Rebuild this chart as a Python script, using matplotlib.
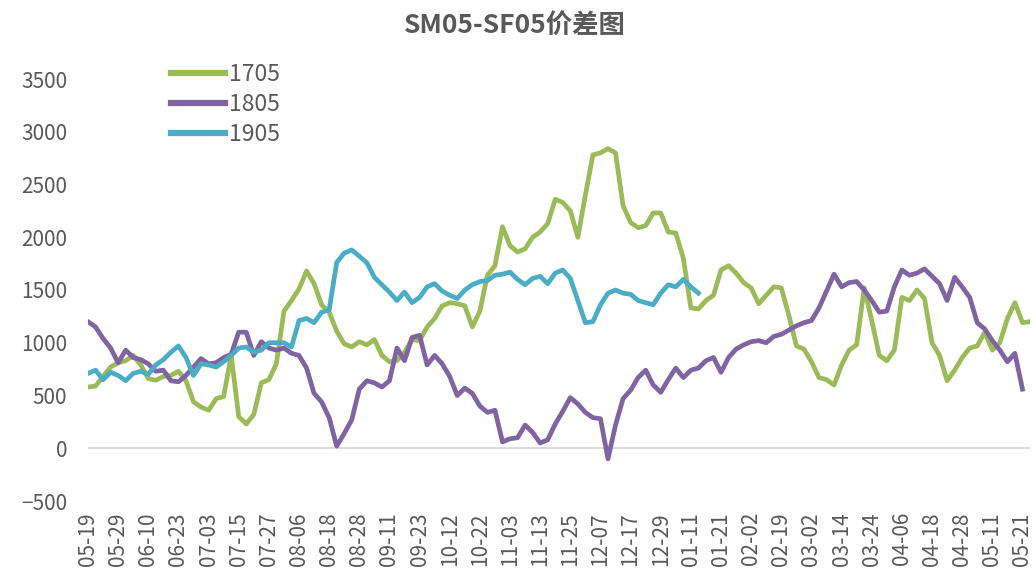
import numpy as np
import matplotlib
matplotlib.use('Agg')
import matplotlib.pyplot as plt

plt.rcParams['font.family'] = ['Noto Sans CJK SC', 'DejaVu Sans']

# trading-day tick labels (every 8 trading days)
date_labels = ['05-19', '05-29', '06-10', '06-23', '07-03', '07-15', '07-27', '08-06',
               '08-18', '08-28', '09-11', '09-23', '10-12', '10-22', '11-03', '11-13',
               '11-25', '12-07', '12-17', '12-29', '01-11', '01-21', '02-02', '02-19',
               '03-02', '03-14', '03-24', '04-06', '04-18', '04-28', '05-11', '05-21']
tick_step = 8
sample_step = 2  # one reading every 2 trading days

spread_1705 = [580, 590, 680, 770, 810, 830, 880, 790, 660, 645,
               680, 690, 730, 640, 440, 390, 360, 470, 490, 880,
               300, 230, 320, 620, 650, 800, 1300, 1400, 1510, 1680,
               1560, 1360, 1290, 1110, 990, 960, 1010, 980, 1030, 880,
               820, 830, 910, 1030, 1020, 1150, 1230, 1350, 1380, 1370,
               1350, 1150, 1300, 1640, 1730, 2100, 1920, 1860, 1890, 2000,
               2050, 2130, 2360, 2330, 2250, 2000, 2400, 2780, 2800, 2840,
               2800, 2300, 2140, 2090, 2110, 2230, 2230, 2050, 2040, 1800,
               1330, 1320, 1400, 1450, 1690, 1730, 1660, 1570, 1520, 1370,
               1450, 1530, 1520, 1260, 970, 940, 820, 670, 650, 600,
               790, 930, 980, 1520, 1210, 880, 830, 930, 1430, 1400,
               1500, 1420, 1000, 880, 640, 740, 860, 950, 970, 1100,
               930, 1000, 1230, 1380, 1190, 1200]

spread_1805 = [1200, 1150, 1040, 950, 810, 930, 860, 840, 800, 730,
               740, 640, 630, 690, 770, 850, 800, 810, 860, 890,
               1100, 1100, 880, 1010, 950, 930, 950, 900, 880, 760,
               520, 440, 290, 20, 140, 270, 560, 640, 620, 580,
               640, 950, 830, 1050, 1070, 790, 880, 800, 680, 500,
               570, 520, 400, 340, 360, 60, 90, 100, 220, 150,
               50, 80, 230, 350, 480, 420, 340, 290, 280, -100,
               220, 470, 550, 670, 740, 600, 530, 650, 760, 670,
               740, 760, 830, 860, 720, 860, 940, 980, 1010, 1020,
               1000, 1060, 1080, 1120, 1160, 1190, 1210, 1330, 1490, 1650,
               1530, 1570, 1580, 1500, 1400, 1290, 1300, 1530, 1690, 1640,
               1660, 1700, 1630, 1560, 1400, 1620, 1530, 1430, 1190, 1130,
               1020, 930, 820, 900, 560]

spread_1905 = [710, 740, 650, 720, 690, 640, 710, 730, 700, 790,
               840, 910, 970, 860, 690, 800, 790, 770, 820, 880,
               950, 960, 910, 930, 1000, 1000, 1000, 960, 1210, 1230,
               1190, 1290, 1310, 1760, 1850, 1880, 1820, 1760, 1620, 1550,
               1480, 1400, 1480, 1380, 1430, 1530, 1560, 1490, 1450, 1420,
               1500, 1550, 1580, 1590, 1640, 1650, 1670, 1600, 1550, 1610,
               1630, 1560, 1660, 1690, 1610, 1400, 1190, 1200, 1360, 1470,
               1500, 1470, 1460, 1400, 1380, 1360, 1470, 1550, 1530, 1600,
               1530, 1470]

series = [('1705', spread_1705, '#9BBB59'),
          ('1805', spread_1805, '#8064A2'),
          ('1905', spread_1905, '#4BACC6')]

text_color = '#595959'

fig = plt.figure(figsize=(10.33, 5.74), dpi=100)
ax = fig.add_axes([88 / 1033, (574 - 501) / 574, (1030 - 88) / 1033, (501 - 79) / 574])

lines = []
for name, vals, color in series:
    x = np.arange(len(vals)) * sample_step
    ln, = ax.plot(x, vals, color=color, lw=3.4, label=name, solid_joinstyle='round')
    lines.append(ln)

ax.axhline(0, color='#D9D9D9', lw=1.3, zorder=0)

ax.set_xlim(0, 250)
ax.set_ylim(-500, 3500)
ax.set_yticks(np.arange(-500, 3501, 500))
ax.set_xticks(np.arange(len(date_labels)) * tick_step)
ax.set_xticklabels(date_labels, rotation=90)
ax.tick_params(axis='both', length=0, labelcolor=text_color, labelsize=15)
ax.tick_params(axis='y', pad=15)
ax.tick_params(axis='x', pad=8)
for sp in ax.spines.values():
    sp.set_visible(False)

fig.text(515 / 1033, 1 - 26 / 574, 'SM05-SF05价差图', ha='center', va='center',
         fontsize=19, fontweight='bold', color=text_color)

leg = fig.legend(handles=lines, loc='upper left', bbox_to_anchor=(171 / 1033, 1 - 63 / 574),
                 frameon=False, handlelength=2.35, handletextpad=0.2, labelspacing=0.3,
                 borderpad=0, borderaxespad=0, fontsize=16.5, labelcolor=text_color)
for h in leg.get_lines():
    h.set_linewidth(4.5)

fig.savefig('out.png', dpi=100)
